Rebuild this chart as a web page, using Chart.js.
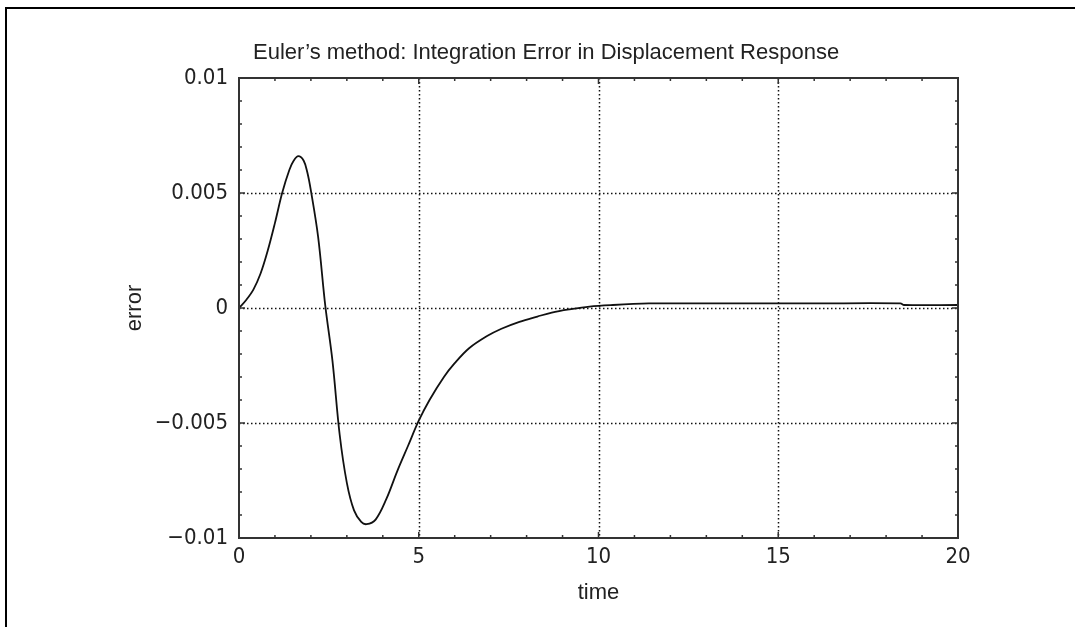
<!DOCTYPE html>
<html>
<head>
<meta charset="utf-8">
<script src="https://cdn.jsdelivr.net/npm/chart.js@4/dist/chart.umd.min.js"></script>
<style>
html,body{margin:0;padding:0;background:#fff;}
#wrap{position:relative;width:1075px;height:627px;}
</style>
</head>
<body>
<div id="wrap"><canvas id="c" width="1075" height="627"></canvas></div>
<script>
const chartTitle = "Euler\u2019s method: Integration Error in Displacement Response";
const xAxisTitle = "time";
const yAxisTitle = "error";
const timeValues = [0, 0.2, 0.4, 0.6, 0.8, 1.0, 1.2, 1.4, 1.52, 1.65, 1.8, 1.9, 2.0, 2.2, 2.4, 2.6, 2.8, 3.0, 3.2, 3.4, 3.55, 3.8, 4.1, 4.4, 4.7, 5.0, 5.3, 5.7, 6.0, 6.4, 6.9, 7.3, 7.8, 8.3, 8.7, 9.2, 9.75, 10.4, 11.4, 12, 14, 16, 18.4, 18.5, 20];
const errorValues = [0, 0.00035, 0.0008, 0.0015, 0.0025, 0.0037, 0.0050, 0.0060, 0.0064, 0.0066, 0.0064, 0.0059, 0.0051, 0.0031, 0.0001, -0.0023, -0.0055, -0.0076, -0.0088, -0.0093, -0.0094, -0.0092, -0.0083, -0.0071, -0.0060, -0.0049, -0.0040, -0.0030, -0.0024, -0.00175, -0.00122, -0.0009, -0.0006, -0.00037, -0.0002, -0.00006, 0.00006, 0.00013, 0.0002, 0.0002, 0.0002, 0.0002, 0.0002, 0.00013, 0.00013];
const xTickValues = [0, 5, 10, 15, 20];
const xTickLabels = ["0", "5", "10", "15", "20"];
const yTickValues = [-0.01, -0.005, 0, 0.005, 0.01];
const yTickLabels = ["\u22120.01", "\u22120.005", "0", "0.005", "0.01"];
const xMinorStep = 1;
const yMinorStep = 0.001;

const tickFont = {family: "'Liberation Sans Narrow', 'DejaVu Sans Condensed', 'Liberation Sans', sans-serif", size: 22};
const labelFont = "'Liberation Sans', Arial, sans-serif";

const points = timeValues.map((t, i) => ({x: t, y: errorValues[i]}));

const framePlugin = {
  id: 'frame',
  beforeDatasetsDraw(chart) {
    const ctx = chart.ctx;
    const xs = chart.scales.x, ys = chart.scales.y;
    const L = xs.left, R = xs.right, T = ys.top, B = ys.bottom;
    ctx.save();
    ctx.strokeStyle = '#111';
    ctx.lineWidth = 1.5;
    ctx.setLineDash([1.5, 2.5]);
    xTickValues.forEach(v => {
      if (v === xs.min || v === xs.max) return;
      const px = Math.round(xs.getPixelForValue(v)) + 0.5;
      ctx.beginPath(); ctx.moveTo(px, T); ctx.lineTo(px, B); ctx.stroke();
    });
    yTickValues.forEach(v => {
      if (v === ys.min || v === ys.max) return;
      const py = Math.round(ys.getPixelForValue(v)) + 0.5;
      ctx.beginPath(); ctx.moveTo(L, py); ctx.lineTo(R, py); ctx.stroke();
    });
    ctx.restore();
  },
  afterDatasetsDraw(chart) {
    const ctx = chart.ctx;
    const xs = chart.scales.x, ys = chart.scales.y;
    const L = xs.left, R = xs.right, T = ys.top, B = ys.bottom;
    ctx.save();
    ctx.strokeStyle = '#333';
    ctx.lineWidth = 2;
    ctx.setLineDash([]);
    ctx.strokeRect(L, T, R - L, B - T);
    ctx.lineWidth = 1.5;
    const nx = Math.round((xs.max - xs.min) / xMinorStep);
    for (let i = 1; i < nx; i++) {
      const v = xs.min + i * xMinorStep;
      const major = xTickValues.some(m => Math.abs(m - v) < 1e-9);
      const len = major ? 6 : 3;
      const px = xs.getPixelForValue(v);
      ctx.beginPath();
      ctx.moveTo(px, B); ctx.lineTo(px, B - len);
      ctx.moveTo(px, T); ctx.lineTo(px, T + len);
      ctx.stroke();
    }
    const ny = Math.round((ys.max - ys.min) / yMinorStep);
    for (let i = 1; i < ny; i++) {
      const v = ys.min + i * yMinorStep;
      const major = yTickValues.some(m => Math.abs(m - v) < 1e-9);
      const len = major ? 6 : 3;
      const py = ys.getPixelForValue(v);
      ctx.beginPath();
      ctx.moveTo(L, py); ctx.lineTo(L + len, py);
      ctx.moveTo(R, py); ctx.lineTo(R - len, py);
      ctx.stroke();
    }
    ctx.restore();
  },
  afterDraw(chart) {
    const ctx = chart.ctx;
    ctx.save();
    ctx.fillStyle = '#000';
    ctx.fillRect(5, 7, chart.width - 5, 2);
    ctx.fillRect(5, 7, 2, chart.height - 7);
    ctx.fillStyle = '#222';
    ctx.font = "22px " + labelFont;
    ctx.textAlign = 'left';
    ctx.textBaseline = 'alphabetic';
    ctx.fillText(chartTitle, 253, 59);
    ctx.restore();
  }
};

new Chart(document.getElementById('c'), {
  type: 'line',
  data: {
    datasets: [{
      data: points,
      borderColor: '#111',
      borderWidth: 1.8,
      pointRadius: 0,
      fill: false,
      tension: 0.35
    }]
  },
  options: {
    responsive: false,
    animation: false,
    devicePixelRatio: 1,
    layout: {padding: {top: 78, right: 117, left: 0, bottom: 0}},
    plugins: {legend: {display: false}, tooltip: {enabled: false}, title: {display: false}},
    scales: {
      x: {
        type: 'linear', min: 0, max: 20,
        afterBuildTicks: s => { s.ticks = xTickValues.map(v => ({value: v})); },
        afterFit: s => { s.height = 89; },
        grid: {display: false},
        border: {display: false},
        ticks: {
          font: tickFont, color: '#222', padding: -2, maxRotation: 0, autoSkip: false,
          callback: v => { const i = xTickValues.indexOf(v); return i >= 0 ? xTickLabels[i] : ''; }
        },
        title: {display: true, text: xAxisTitle, color: '#222', font: {family: labelFont, size: 22}, padding: {top: 0, bottom: 21}}
      },
      y: {
        type: 'linear', min: -0.01, max: 0.01,
        afterBuildTicks: s => { s.ticks = yTickValues.map(v => ({value: v})); },
        afterFit: s => { s.width = 239; },
        grid: {display: false},
        border: {display: false},
        ticks: {
          font: tickFont, color: '#222', padding: 3, autoSkip: false,
          callback: v => { const i = yTickValues.findIndex(m => Math.abs(m - v) < 1e-12); return i >= 0 ? yTickLabels[i] : ''; }
        },
        title: {display: true, text: yAxisTitle, color: '#222', font: {family: labelFont, size: 22}, padding: {top: 122, bottom: 0}}
      }
    }
  },
  plugins: [framePlugin]
});
</script>
</body>
</html>
